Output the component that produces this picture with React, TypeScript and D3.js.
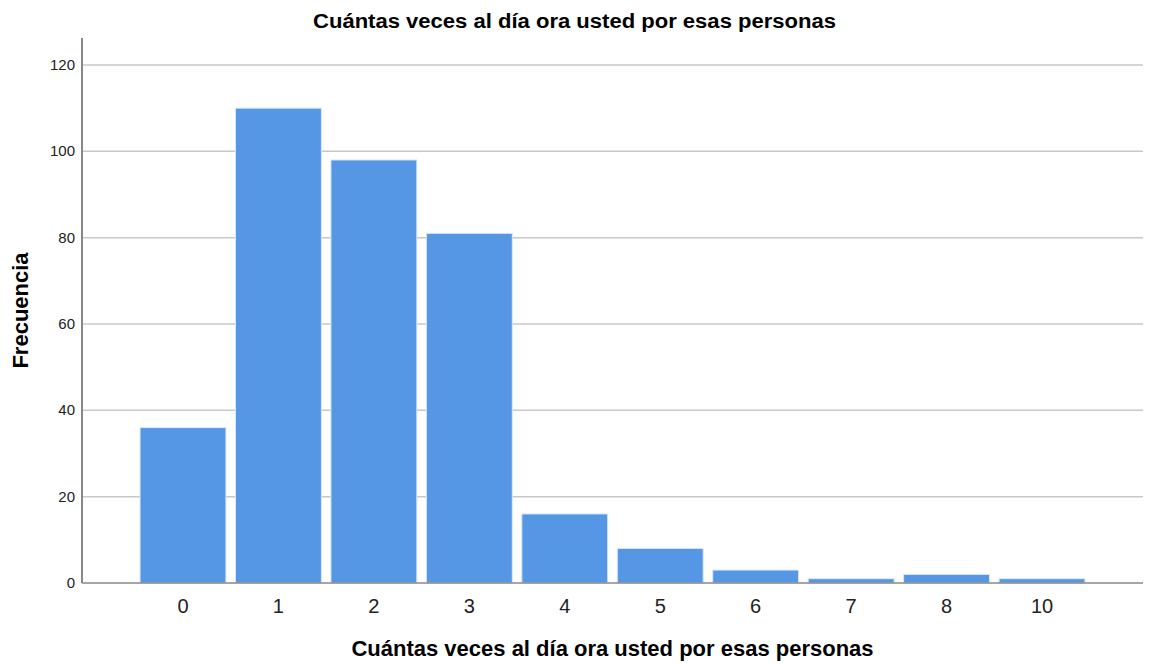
import React from "react";
import * as d3 from "d3";

const categories = ["0", "1", "2", "3", "4", "5", "6", "7", "8", "10"];
const frequencies = [36, 110, 98, 81, 16, 8, 3, 1, 2, 1];
const yTicks = [0, 20, 40, 60, 80, 100, 120];
const title = "Cuántas veces al día ora usted por esas personas";
const xTitle = "Cuántas veces al día ora usted por esas personas";
const yTitle = "Frecuencia";

export default function App() {
  const W = 1149, H = 664;
  const left = 82, right = 1143, top = 38, bottom = 583;
  const x = d3.scaleBand<string>().domain(categories).range([left, right]).paddingInner(0.1).paddingOuter(0.608);
  const y = d3.scaleLinear().domain([0, 120]).range([bottom, 65]);
  const font = "'Liberation Sans', Arial, sans-serif";
  return (
    <svg width={W} height={H} style={{ position: "absolute", left: 0, top: 0, background: "#fff" }} fontFamily={font}>
      <rect width={W} height={H} fill="#fff" />
      <text x={574.5} y={28} textAnchor="middle" fontSize={20} fontWeight="bold" fill="#000"
        textLength={523} lengthAdjust="spacingAndGlyphs">{title}</text>
      {yTicks.filter(t => t > 0).map(t => (
        <line key={t} x1={left} x2={right} y1={y(t)} y2={y(t)} stroke="#c8c8c8" strokeWidth={1.5} />
      ))}
      {categories.map((c, i) => (
        <rect key={c} x={x(c)!} y={y(frequencies[i])} width={x.bandwidth()} height={bottom - y(frequencies[i])}
          fill="#5596e5" stroke="#dbe8f8" strokeWidth={1} />
      ))}
      <line x1={left} x2={left} y1={top} y2={bottom} stroke="#888" strokeWidth={2} />
      <line x1={left} x2={right} y1={bottom} y2={bottom} stroke="#888" strokeWidth={1.5} />
      {yTicks.map(t => (
        <text key={t} x={75} y={y(t) + 5} textAnchor="end" fontSize={15} fill="#222">{t}</text>
      ))}
      {categories.map(c => (
        <text key={c} x={x(c)! + x.bandwidth() / 2} y={613} textAnchor="middle" fontSize={20} fill="#222">{c}</text>
      ))}
      <text x={612.5} y={656} textAnchor="middle" fontSize={22} fontWeight="bold" fill="#000">{xTitle}</text>
      <text transform={`translate(28,310.5) rotate(-90)`} textAnchor="middle" fontSize={22} fontWeight="bold" fill="#000">{yTitle}</text>
    </svg>
  );
}
